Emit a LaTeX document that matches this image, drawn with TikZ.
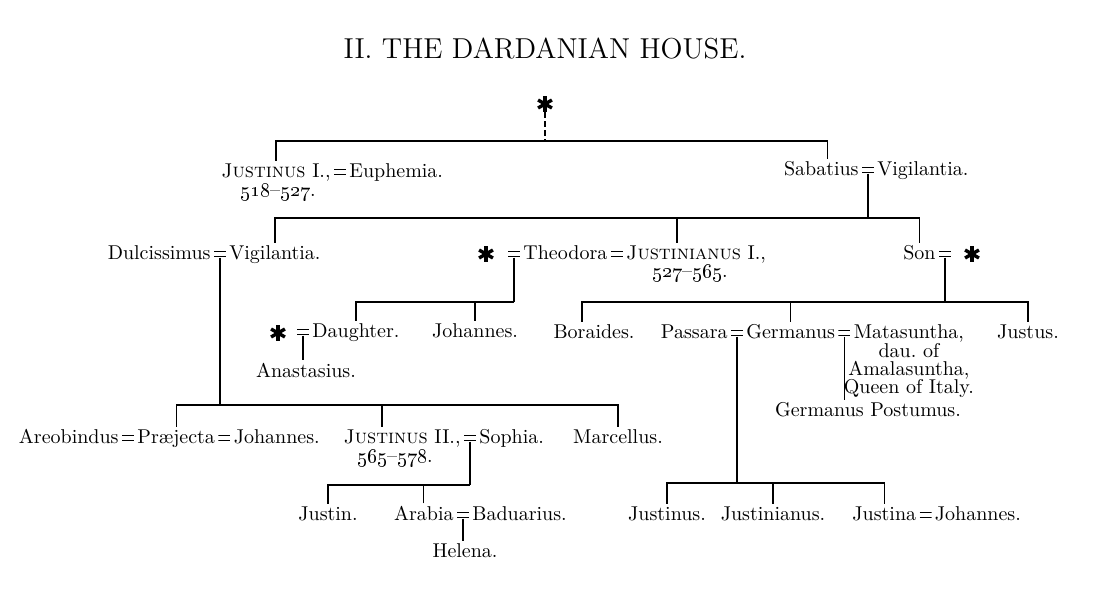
\documentclass[tikz,border=0pt]{standalone}
\usepackage{amsmath,amssymb}
\usetikzlibrary{positioning}

\begin{document}
\begin{tikzpicture}[x=0.5pt,y=-0.5pt,
  person/.style={inner sep=1pt},
  line/.style={line width=0.6pt},
  wed/.style={minimum width=6pt,minimum height=3.1pt,inner sep=0pt,yshift=2.5pt,
    path picture={\draw[line width=0.6pt]
      ([yshift=-0.3pt]path picture bounding box.north west) -- ([yshift=-0.3pt]path picture bounding box.north east)
      ([yshift=0.3pt]path picture bounding box.south west) -- ([yshift=0.3pt]path picture bounding box.south east);}},
  anc/.style={minimum size=8pt,inner sep=0pt,
    path picture={\foreach \a in {90,30,150}
      {\draw[line width=1.7pt] ([shift={(\a:4pt)}]path picture bounding box.center) -- ([shift={(\a+180:4pt)}]path picture bounding box.center);}}}]
\useasboundingbox (0,0) rectangle (1099,600);

\node[anchor=base,font=\Large] (ttl) at (545,58) {II. THE DARDANIAN HOUSE.};

% first generation
\node[anc] (st0) at (545,104) {};
\node[person,anchor=base east] (just1) at (333,177) {\textsc{Justinus} I.,};
\node[wed,xshift=3.5pt] (w1) at (just1.base east) {};
\node[person,anchor=base west,xshift=7pt] (euph) at (just1.base east) {Euphemia.};
\node[person,anchor=base] (d1) at (278,196) {\oldstylenums{518}--\oldstylenums{527}.};
\node[person,anchor=base east] (sab) at (861,175) {Sabatius};
\node[wed,xshift=3.5pt] (w2) at (sab.base east) {};
\node[person,anchor=base west,xshift=7pt] (vig1) at (sab.base east) {Vigilantia.};

\coordinate (g0) at (st0.south |- 0,141);
\draw[line,dash pattern=on 3pt off 1.5pt] (st0.south) -- (g0);
\draw[line] (just1.north) |- (g0) -| ([xshift=3pt]sab.north);

% children of Sabatius
\node[person,anchor=base east] (dulc) at (213,259) {Dulcissimus};
\node[wed,xshift=3.5pt] (w3) at (dulc.base east) {};
\node[person,anchor=base west,xshift=7pt] (vig2) at (dulc.base east) {Vigilantia.};
\node[anc] (st1) at (486,254) {};
\node[wed] (w4) at (514,259) {};
\node[person,anchor=base west] (theo) at (521,259) {Theodora};
\node[wed,xshift=3.5pt] (w5) at (theo.base east) {};
\node[person,anchor=base west,xshift=7pt] (justn) at (theo.base east) {\textsc{Justinianus} I.,};
\node[person,anchor=base] (d2) at (690,277) {\oldstylenums{527}--\oldstylenums{565}.};
\node[person,anchor=base east] (son) at (938,259) {Son};
\node[wed,xshift=3.5pt] (w6) at (son.base east) {};
\node[anc] (st2) at (972,254) {};

\coordinate (g1) at (w2.south |- 0,218);
\draw[line] (w2.south) -- (g1);
\draw[line] (vig2.north) |- (g1) -| (son.north);
\draw[line] ([xshift=-9.5pt]justn.north) -- ([xshift=-9.5pt]justn.north |- g1);

% children of Justinianus
\node[anc] (st3) at (278,333) {};
\node[wed] (w7) at (303,337) {};
\node[person,anchor=base west] (daut) at (310,337) {Daughter.};
\node[person,anchor=base] (johA) at (475,337) {Johannes.};
\node[person,anchor=base] (anast) at (306,377) {Anastasius.};

\coordinate (g2) at (w4.south |- 0,302);
\draw[line] (w4.south) -- (g2);
\draw[line] (daut.north) |- (g2);
\draw[line] (johA.north) -- (johA.north |- g2);
\draw[line] (w7.south) -- (w7.south |- anast.north);

% children of Son
\node[person,anchor=base] (bor) at (594,338) {Boraides.};
\node[person,anchor=base east] (pass) at (730,338) {Passara};
\node[wed,xshift=3.5pt] (w8) at (pass.base east) {};
\node[person,anchor=base west,xshift=7pt] (germ) at (pass.base east) {Germanus};
\node[wed,xshift=3.5pt] (w9) at (germ.base east) {};
\node[person,anchor=base west,xshift=7pt] (mata) at (germ.base east) {Matasuntha,};
\node[person,anchor=north,align=center,font=\fontsize{10}{9}\selectfont,yshift=1.5pt] (mdesc) at (mata.south) {dau.\ of\\Amalasuntha,\\Queen of Italy.};
\node[person,anchor=base] (gpost) at (868,416) {Germanus Postumus.};
\node[person,anchor=base] (justs) at (1028,338) {Justus.};

\coordinate (g3) at (w6.south |- 0,302);
\draw[line] (w6.south) -- (g3);
\draw[line] ([xshift=-6pt]bor.north) |- (g3) -| (justs.north);
\draw[line] (germ.north) -- (germ.north |- g3);
\draw[line] (w9.south) -- (w9.south |- gpost.north);

% children of Dulcissimus
\node[person,anchor=base east] (areo) at (121,443) {Areobindus};
\node[wed,xshift=3.5pt] (w10) at (areo.base east) {};
\node[person,anchor=base west,xshift=7pt] (prae) at (areo.base east) {Præjecta};
\node[wed,xshift=3.5pt] (w11) at (prae.base east) {};
\node[person,anchor=base west,xshift=7pt] (joh2) at (prae.base east) {Johannes.};
\node[person,anchor=base east] (just2) at (463,443) {\textsc{Justinus} II.,};
\node[wed,xshift=3.5pt] (w12) at (just2.base east) {};
\node[person,anchor=base west,xshift=7pt] (soph) at (just2.base east) {Sophia.};
\node[person,anchor=base] (d3) at (395,462) {\oldstylenums{565}--\oldstylenums{578}.};
\node[person,anchor=base] (marc) at (618,443) {Marcellus.};

\coordinate (g4) at (w3.south |- 0,405);
\draw[line] (w3.south) -- (g4);
\draw[line] (prae.north) |- (g4) -| (marc.north);
\draw[line] ([xshift=-10pt]just2.north) -- ([xshift=-10pt]just2.north |- g4);

% children of Justinus II
\node[person,anchor=base] (justin) at (328,520) {Justin.};
\node[person,anchor=base east] (arab) at (456,520) {Arabia};
\node[wed,xshift=3.5pt] (w13) at (arab.base east) {};
\node[person,anchor=base west,xshift=7pt] (badu) at (arab.base east) {Baduarius.};
\node[person,anchor=base] (hel) at (465,557) {Helena.};

\coordinate (g5) at (w12.south |- 0,485);
\draw[line] (w12.south) -- (g5);
\draw[line] (justin.north) |- (g5);
\draw[line] (arab.north) -- (arab.north |- g5);
\draw[line] (w13.south) -- (w13.south |- hel.north);

% children of Germanus and Passara
\node[person,anchor=base] (jus3) at (667,520) {Justinus.};
\node[person,anchor=base] (jni) at (773,520) {Justinianus.};
\node[person,anchor=base west] (jusa) at (850,520) {Justina};
\node[wed,xshift=3.5pt] (w14) at (jusa.base east) {};
\node[person,anchor=base west,xshift=7pt] (joh3) at (jusa.base east) {Johannes.};

\coordinate (g6) at (w8.south |- 0,483);
\draw[line] (w8.south) -- (g6);
\draw[line] (jus3.north) |- (g6) -| (jusa.north);
\draw[line] (jni.north) -- (jni.north |- g6);
\end{tikzpicture}
\end{document}
